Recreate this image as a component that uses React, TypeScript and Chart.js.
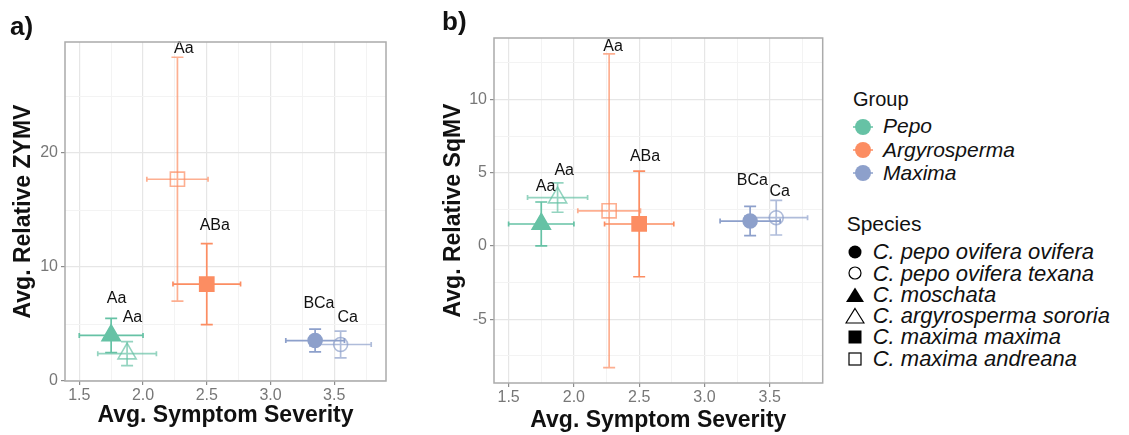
import React, { useEffect, useRef } from 'react';
import { Chart, registerables } from 'chart.js';
Chart.register(...registerables);

// ---------------- data ----------------
const groupNames = ['Pepo', 'Argyrosperma', 'Maxima'];
const groupColors = ['#66c2a5', '#fc8d62', '#8da0cb'];

const speciesNames = [
  'C. pepo ovifera ovifera',
  'C. pepo ovifera texana',
  'C. moschata',
  'C. argyrosperma sororia',
  'C. maxima maxima',
  'C. maxima andreana',
];
const speciesShape = ['circle', 'circle', 'triangle', 'triangle', 'rect', 'rect'];
const speciesFilled = [true, false, true, false, true, false];

// plotted points (same order in both panels)
const pointSpecies = [
  'C. moschata',
  'C. argyrosperma sororia',
  'C. maxima andreana',
  'C. maxima maxima',
  'C. pepo ovifera ovifera',
  'C. pepo ovifera texana',
];
const pointGroup = ['Pepo', 'Pepo', 'Argyrosperma', 'Argyrosperma', 'Maxima', 'Maxima'];
const pointLetters = ['Aa', 'Aa', 'Aa', 'ABa', 'BCa', 'Ca'];

const severityMean = [1.75, 1.875, 2.27, 2.5, 3.35, 3.55];
const severitySE = [0.25, 0.23, 0.24, 0.265, 0.23, 0.24];

const zymvMean = [4.0, 2.4, 17.7, 8.5, 3.55, 3.2];
const zymvSE = [1.5, 1.05, 10.7, 3.55, 1.0, 1.17];
const zymvLabelX = [1.792, 1.917, 2.32, 2.563, 3.38, 3.606];
const zymvLabelY = [7.22, 5.53, 29.15, 13.64, 6.75, 5.55];

const sqmvMean = [1.5, 3.3, 2.4, 1.5, 1.7, 1.93];
const sqmvSE = [1.5, 1.0, 10.7, 3.6, 1.0, 1.18];
const sqmvLabelX = [1.783, 1.926, 2.3, 2.545, 3.367, 3.577];
const sqmvLabelY = [4.07, 5.16, 13.61, 6.08, 4.47, 3.73];

const severityTicks = [1.5, 2.0, 2.5, 3.0, 3.5];
const severityTickLabels = ['1.5', '2.0', '2.5', '3.0', '3.5'];
const severityMinorTicks = [1.75, 2.25, 2.75, 3.25, 3.75];
const severityRange = [1.388, 3.906];

const zymvTicks = [0, 10, 20];
const zymvTickLabels = ['0', '10', '20'];
const zymvMinorTicks = [5, 15, 25];
const zymvRange = [0, 29.74];

const sqmvTicks = [-5, 0, 5, 10];
const sqmvTickLabels = ['-5', '0', '5', '10'];
const sqmvMinorTicks = [-7.5, -2.5, 2.5, 7.5, 12.5];
const sqmvRange = [-9.35, 14.19];

// ---------------- style ----------------
const FONT = '"Liberation Sans", Arial, Helvetica, sans-serif';
const OPEN_ALPHA = 0.7;

function hexToRgba(hex: string, a: number) {
  const n = parseInt(hex.slice(1), 16);
  return `rgba(${(n >> 16) & 255},${(n >> 8) & 255},${n & 255},${a})`;
}

function pointInfo(i: number) {
  const s = speciesNames.indexOf(pointSpecies[i]);
  const g = groupNames.indexOf(pointGroup[i]);
  const filled = speciesFilled[s];
  const base = groupColors[g];
  const col = filled ? base : hexToRgba(base, OPEN_ALPHA);
  const shape = speciesShape[s];
  const radius = shape === 'triangle' ? 10.5 : shape === 'rect' ? 10 : 7;
  return { filled, col, shape, radius };
}

type PanelSpec = {
  mean: number[];
  se: number[];
  labelX: number[];
  labelY: number[];
  yTicks: number[];
  yTickLabels: string[];
  yMinor: number[];
  yRange: number[];
  yTitle: string;
};

type Geo = {
  left: number;
  width: number;
  plotLeft: number;
  plotRight: number;
  plotTop: number;
  plotBottom: number;
  yTitlePad: number;
  xTitlePad: number;
};

const H = 435;

function makePlugin(spec: PanelSpec) {
  return {
    id: 'errbarsAndLabels',
    beforeDatasetsDraw(chart: any) {
      const { ctx } = chart;
      const x = chart.scales.x;
      const y = chart.scales.y;
      ctx.save();
      ctx.lineWidth = 1.7;
      const capW = 6;
      const capH = 2.5;
      for (let i = 0; i < severityMean.length; i++) {
        const { col } = pointInfo(i);
        ctx.strokeStyle = col;
        const px = x.getPixelForValue(severityMean[i]);
        const py = y.getPixelForValue(spec.mean[i]);
        const yTop = y.getPixelForValue(spec.mean[i] + spec.se[i]);
        const yBot = y.getPixelForValue(spec.mean[i] - spec.se[i]);
        const xL = x.getPixelForValue(severityMean[i] - severitySE[i]);
        const xR = x.getPixelForValue(severityMean[i] + severitySE[i]);
        ctx.beginPath();
        ctx.moveTo(px, yTop);
        ctx.lineTo(px, yBot);
        ctx.moveTo(px - capW, yTop);
        ctx.lineTo(px + capW, yTop);
        ctx.moveTo(px - capW, yBot);
        ctx.lineTo(px + capW, yBot);
        ctx.moveTo(xL, py);
        ctx.lineTo(xR, py);
        ctx.moveTo(xL, py - capH);
        ctx.lineTo(xL, py + capH);
        ctx.moveTo(xR, py - capH);
        ctx.lineTo(xR, py + capH);
        ctx.stroke();
      }
      ctx.restore();
    },
    afterDatasetsDraw(chart: any) {
      const { ctx, chartArea } = chart;
      const x = chart.scales.x;
      const y = chart.scales.y;
      ctx.save();
      ctx.fillStyle = '#111';
      ctx.font = `16px ${FONT}`;
      ctx.textAlign = 'center';
      ctx.textBaseline = 'middle';
      for (let i = 0; i < pointLetters.length; i++) {
        ctx.fillText(pointLetters[i], x.getPixelForValue(spec.labelX[i]), y.getPixelForValue(spec.labelY[i]));
      }
      ctx.strokeStyle = '#ababab';
      ctx.lineWidth = 1.5;
      ctx.strokeRect(chartArea.left, chartArea.top, chartArea.right - chartArea.left, chartArea.bottom - chartArea.top);
      ctx.restore();
    },
  };
}

function isIn(arr: number[], v: number) {
  return arr.some((a) => Math.abs(a - v) < 1e-9);
}

function Panel({ spec, geo }: { spec: PanelSpec; geo: Geo }) {
  const ref = useRef<HTMLCanvasElement>(null);
  useEffect(() => {
    if (!ref.current) return;
    const infos = severityMean.map((_, i) => pointInfo(i));
    const chart = new Chart(ref.current, {
      type: 'scatter',
      data: {
        datasets: [
          {
            data: severityMean.map((v, i) => ({ x: v, y: spec.mean[i] })),
            pointStyle: infos.map((p) => p.shape) as any,
            pointRadius: infos.map((p) => p.radius),
            pointBackgroundColor: infos.map((p) => (p.filled ? p.col : 'rgba(255,255,255,0)')),
            pointBorderColor: infos.map((p) => p.col),
            pointBorderWidth: 1.6,
            showLine: false,
          } as any,
        ],
      },
      options: {
        animation: false,
        responsive: false,
        devicePixelRatio: 1,
        events: [],
        layout: {
          padding: {
            left: 0,
            top: geo.plotTop,
            right: geo.width - geo.plotRight,
            bottom: 0,
          },
        },
        plugins: { legend: { display: false }, tooltip: { enabled: false } },
        scales: {
          x: {
            type: 'linear',
            min: severityRange[0],
            max: severityRange[1],
            afterBuildTicks: (s: any) => {
              s.ticks = [...severityTicks, ...severityMinorTicks].sort((a, b) => a - b).map((v) => ({ value: v }));
            },
            afterFit: (s: any) => {
              s.height = H - geo.plotBottom;
            },
            border: { display: false },
            grid: {
              color: (c: any) => (isIn(severityTicks, c.tick.value) ? '#e6e6e6' : '#f3f3f3'),
              lineWidth: (c: any) => (isIn(severityTicks, c.tick.value) ? 1.2 : 1),
              tickColor: (c: any) => (isIn(severityTicks, c.tick.value) ? '#8c8c8c' : 'rgba(0,0,0,0)'),
              tickLength: 4,
              drawTicks: true,
            },
            ticks: {
              autoSkip: false,
              maxRotation: 0,
              padding: 1,
              color: '#777',
              font: { family: FONT, size: 16 },
              callback: (v: any) => {
                const k = severityTicks.findIndex((t) => Math.abs(t - Number(v)) < 1e-9);
                return k >= 0 ? severityTickLabels[k] : '';
              },
            },
            title: {
              display: true,
              text: 'Avg. Symptom Severity',
              color: '#111',
              font: { family: FONT, size: 23, weight: 'bold' },
              padding: { top: 0, bottom: geo.xTitlePad },
            },
          },
          y: {
            type: 'linear',
            min: spec.yRange[0],
            max: spec.yRange[1],
            afterBuildTicks: (s: any) => {
              s.ticks = [...spec.yTicks, ...spec.yMinor].sort((a, b) => a - b).map((v) => ({ value: v }));
            },
            afterFit: (s: any) => {
              s.width = geo.plotLeft;
            },
            border: { display: false },
            grid: {
              color: (c: any) => (isIn(spec.yTicks, c.tick.value) ? '#e6e6e6' : '#f3f3f3'),
              lineWidth: (c: any) => (isIn(spec.yTicks, c.tick.value) ? 1.2 : 1),
              tickColor: (c: any) => (isIn(spec.yTicks, c.tick.value) ? '#8c8c8c' : 'rgba(0,0,0,0)'),
              tickLength: 4,
              drawTicks: true,
            },
            ticks: {
              autoSkip: false,
              padding: 3,
              color: '#777',
              font: { family: FONT, size: 16 },
              callback: (v: any) => {
                const k = spec.yTicks.findIndex((t) => Math.abs(t - Number(v)) < 1e-9);
                return k >= 0 ? spec.yTickLabels[k] : '';
              },
            },
            title: {
              display: true,
              text: spec.yTitle,
              color: '#111',
              font: { family: FONT, size: 23, weight: 'bold' },
              padding: { top: geo.yTitlePad, bottom: 0 },
            },
          },
        },
      } as any,
      plugins: [makePlugin(spec)],
    });
    return () => chart.destroy();
  }, []);
  return (
    <canvas
      ref={ref}
      width={geo.width}
      height={H}
      style={{ position: 'absolute', left: geo.left, top: 0, width: geo.width, height: H }}
    />
  );
}

const panelA: PanelSpec = {
  mean: zymvMean,
  se: zymvSE,
  labelX: zymvLabelX,
  labelY: zymvLabelY,
  yTicks: zymvTicks,
  yTickLabels: zymvTickLabels,
  yMinor: zymvMinorTicks,
  yRange: zymvRange,
  yTitle: 'Avg. Relative ZYMV',
};
const panelB: PanelSpec = {
  mean: sqmvMean,
  se: sqmvSE,
  labelX: sqmvLabelX,
  labelY: sqmvLabelY,
  yTicks: sqmvTicks,
  yTickLabels: sqmvTickLabels,
  yMinor: sqmvMinorTicks,
  yRange: sqmvRange,
  yTitle: 'Avg. Relative SqMV',
};

const geoA: Geo = { left: 0, width: 410, plotLeft: 65, plotRight: 386, plotTop: 42, plotBottom: 381, yTitlePad: 10, xTitlePad: 6 };
const geoB: Geo = { left: 420, width: 420, plotLeft: 74, plotRight: 402.7, plotTop: 38, plotBottom: 383, yTitlePad: 20, xTitlePad: 1 };

function GroupKey({ color }: { color: string }) {
  return (
    <svg width={24} height={20} style={{ display: 'block' }}>
      <line x1={2} y1={10} x2={22} y2={10} stroke={color} strokeWidth={1.5} />
      <circle cx={12} cy={10} r={8} fill={color} />
    </svg>
  );
}

function SpeciesKey({ shape, filled }: { shape: string; filled: boolean }) {
  const fill = filled ? '#000' : '#fff';
  const stroke = '#000';
  let el: any;
  if (shape === 'circle') el = <circle cx={10} cy={10} r={filled ? 6.5 : 6} fill={fill} stroke={stroke} strokeWidth={filled ? 0 : 1.2} />;
  else if (shape === 'triangle')
    el = <polygon points="10,2.5 19,17 1,17" fill={fill} stroke={stroke} strokeWidth={filled ? 0 : 1.2} />;
  else el = <rect x={filled ? 3.5 : 4} y={filled ? 3.5 : 4} width={filled ? 13 : 12} height={filled ? 13 : 12} fill={fill} stroke={stroke} strokeWidth={filled ? 0 : 1.2} />;
  return (
    <svg width={20} height={20} style={{ display: 'block' }}>
      {el}
    </svg>
  );
}

function Legend() {
  const txt: any = { position: 'absolute', whiteSpace: 'nowrap', color: '#111', fontFamily: FONT };
  return (
    <>
      <div style={{ ...txt, left: 853, top: 89, fontSize: 20, lineHeight: '20px' }}>Group</div>
      {groupNames.map((g, i) => {
        const cy = 125.7 + i * 23.3;
        return (
          <React.Fragment key={g}>
            <div style={{ position: 'absolute', left: 863 - 12, top: cy + 1 - 10 }}>
              <GroupKey color={groupColors[i]} />
            </div>
            <div style={{ ...txt, left: 883, top: cy - 10.3, fontSize: 21, lineHeight: '21px', fontStyle: 'italic' }}>{g}</div>
          </React.Fragment>
        );
      })}
      <div style={{ ...txt, left: 846.7, top: 213, fontSize: 21, lineHeight: '21px' }}>Species</div>
      {speciesNames.map((s, i) => {
        const cy = 252 + i * 21.3;
        return (
          <React.Fragment key={s}>
            <div style={{ position: 'absolute', left: 855 - 10, top: cy - 10 }}>
              <SpeciesKey shape={speciesShape[i]} filled={speciesFilled[i]} />
            </div>
            <div style={{ ...txt, left: 872.7, top: cy - 10.75, fontSize: 22, lineHeight: '22px', fontStyle: 'italic' }}>{s}</div>
          </React.Fragment>
        );
      })}
    </>
  );
}

export default function App() {
  return (
    <div style={{ position: 'absolute', left: 0, top: 0, width: 1129, height: 435, background: '#fff', overflow: 'hidden' }}>
      <Panel spec={panelA} geo={geoA} />
      <Panel spec={panelB} geo={geoB} />
      <div style={{ position: 'absolute', left: 10, top: 13, fontFamily: FONT, fontWeight: 'bold', fontSize: 26, lineHeight: '26px', color: '#111' }}>a)</div>
      <div style={{ position: 'absolute', left: 442, top: 8, fontFamily: FONT, fontWeight: 'bold', fontSize: 26, lineHeight: '26px', color: '#111' }}>b)</div>
      <Legend />
    </div>
  );
}
